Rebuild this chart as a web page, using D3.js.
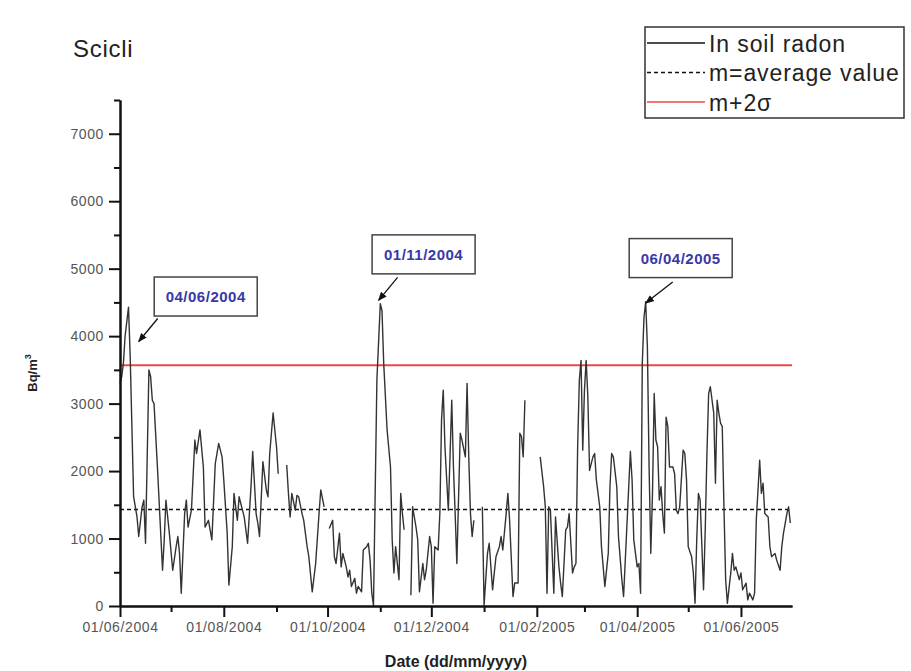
<!DOCTYPE html>
<html>
<head>
<meta charset="utf-8">
<script src="https://cdn.jsdelivr.net/npm/d3@7"></script>
<style>
  body { margin: 0; background: #fff; }
  svg { font-family: "Liberation Sans", Arial, sans-serif; }
</style>
</head>
<body>
<div id="chart"></div>
<script>
// Radon data, days counted from 01/06/2004 (null = gap in the record)
var days = [
  0,1,2,3,5,6,8,10,11,13,14,15,17,18,19,20,22,25,26,27,29,31,33,34,35,36,38,39,40,42,
  44,45,47,49,50,52,54,56,58,60,61,63,64,66,67,69,70,72,73,75,77,78,80,81,82,84,86,87,88,90,
  92,93,95,
  98,99,100,101,103,104,105,107,108,110,111,113,115,117,118,120,122,
  123,125,126,127,129,130,131,133,134,135,136,138,139,140,142,143,145,146,147,148,149,151,153,154,155,157,
  159,160,161,162,164,165,166,167,169,
  171,172,174,175,176,178,179,180,182,183,184,185,187,188,189,190,191,193,195,196,197,198,200,201,203,204,
  205,206,207,208,210,
  213,214,216,217,219,220,221,223,224,225,227,228,229,231,232,234,235,236,237,238,240,
  247,249,250,251,252,253,255,256,258,259,260,262,263,264,266,267,268,269,270,271,272,273,274,275,276,278,
  279,280,282,283,285,287,288,289,290,292,293,295,296,300,301,302,304,305,306,307,308,309,310,311,312,313,
  314,315,316,317,318,319,320,321,322,323,325,326,327,328,329,331,332,333,334,336,337,338,339,340,341,343,
  344,345,346,347,349,350,351,352,353,354,355,356,357,359,360,361,362,364,365,366,368,369,370,372,373,374,
  376,377,378,379,381,382,383,385,386,388,389,390,392,393,394
];
var radon = [
  3300,3400,3600,4000,4430,3690,1620,1320,1030,1470,1570,930,3500,3400,3050,3000,2060,530,980,1570,1080,530,880,1030,780,190,1370,1570,1170,1420,
  2460,2260,2610,2060,1170,1270,980,2110,2410,2210,1870,1080,310,880,1670,1270,1620,1420,1320,930,1770,2290,1370,1230,1030,2140,1720,1620,2260,2860,
  2360,1960,null,
  2090,1670,1320,1670,1420,1640,1620,1370,1270,880,730,210,630,1370,1720,1470,null,
  1150,1270,730,630,1080,580,780,580,430,530,290,410,190,290,210,830,880,930,680,190,10,3350,4480,4380,3600,2610,
  2060,980,490,880,390,1670,1370,1130,null,
  160,1470,1170,980,210,630,390,530,1030,880,40,880,830,1370,2760,3200,2360,1420,3050,2060,1370,630,2560,2460,2210,3300,
  2210,1370,1030,1270,null,
  1470,10,780,930,240,490,730,880,1030,830,1370,1670,1270,140,340,340,2560,2510,2210,3050,null,
  2210,1770,1470,190,1470,1420,190,1320,580,340,140,1130,1170,1370,490,580,630,2360,3350,3640,2310,3200,3640,3100,2010,2210,
  2260,1870,1470,880,290,780,1770,2260,2210,1770,1030,390,140,2290,1870,980,580,630,190,3600,4280,4510,3840,2060,780,1670,
  3150,2460,2360,1570,1770,1370,1080,2800,2660,2060,2060,1960,1420,1370,1470,2310,2260,1870,880,730,490,40,980,1670,1570,240,
  1130,2260,3150,3250,2860,1820,3050,2860,2710,2660,1470,390,40,490,780,530,580,390,490,240,340,90,190,90,190,1270,
  2160,1670,1820,1370,1320,880,730,780,680,530,880,1080,1370,1470,1230
];

var meanValue = 1430;     // m = average value
var limitValue = 3570;    // m + 2 sigma

// Peaks marked with a date box
var annotLabels = ["04/06/2004", "01/11/2004", "06/04/2005"];
var annotDays = [11.5, 152, 309.2];
var annotValues = [3920, 4530, 4490];

var legendLabels = ["In soil radon", "m=average value", "m+2\u03c3"];

var width = 911, height = 671;
var startDate = new Date(2004, 5, 1);
var endDate = new Date(2005, 6, 1);

var svg = d3.select("#chart").append("svg")
    .attr("width", width)
    .attr("height", height);

var x = d3.scaleTime().domain([startDate, endDate]).range([120, 792]);
var y = d3.scaleLinear().domain([0, 7500]).range([606, 100]);

var data = days.map(function(d, i) {
    return {date: d3.timeDay.offset(startDate, d), value: radon[i]};
});

// reference lines
svg.append("line")
    .attr("x1", x(startDate)).attr("x2", x(endDate))
    .attr("y1", y(meanValue)).attr("y2", y(meanValue))
    .attr("stroke", "#111").attr("stroke-width", 1.4)
    .attr("stroke-dasharray", "4,3");
svg.append("line")
    .attr("x1", x(startDate)).attr("x2", x(endDate))
    .attr("y1", y(limitValue)).attr("y2", y(limitValue))
    .attr("stroke", "#e8484a").attr("stroke-width", 2);

// the radon line
var line = d3.line()
    .defined(function(d) { return d.value !== null; })
    .x(function(d) { return x(d.date); })
    .y(function(d) { return y(d.value); });

svg.append("path")
    .datum(data)
    .attr("d", line)
    .attr("fill", "none")
    .attr("stroke", "#333")
    .attr("stroke-width", 1.4)
    .attr("stroke-linejoin", "round");

// x axis: major ticks every 2 months from June, minor ticks between
var majorMonths = d3.timeMonth.range(startDate, endDate, 2);
var minorMonths = d3.timeMonth.range(d3.timeMonth.offset(startDate, 1), endDate, 2);

svg.append("g")
    .attr("transform", "translate(0,606)")
    .call(d3.axisBottom(x).tickValues(majorMonths).tickFormat(d3.timeFormat("%d/%m/%Y"))
        .tickSize(11).tickSizeOuter(0).tickPadding(5));
svg.append("g")
    .attr("transform", "translate(0,606)")
    .call(d3.axisBottom(x).tickValues(minorMonths).tickFormat("").tickSize(6).tickSizeOuter(0));

// y axis
svg.append("g")
    .attr("transform", "translate(120,0)")
    .call(d3.axisLeft(y).tickValues(d3.range(0, 7001, 1000)).tickFormat(d3.format("d"))
        .tickSize(11).tickSizeOuter(0).tickPadding(5));
svg.append("g")
    .attr("transform", "translate(120,0)")
    .call(d3.axisLeft(y).tickValues(d3.range(500, 7501, 1000)).tickFormat("").tickSize(6).tickSizeOuter(0));

svg.selectAll(".domain, .tick line")
    .attr("stroke", "#111").attr("stroke-width", 2);
svg.selectAll(".tick text")
    .attr("fill", "#555").style("font-size", "14px").style("letter-spacing", "0.6px");

// axis titles
svg.append("text")
    .attr("transform", "translate(37,373) rotate(-90)")
    .attr("text-anchor", "middle")
    .style("font-size", "13px").style("font-weight", "bold").attr("fill", "#222")
    .html("Bq/m<tspan dy='-6' font-size='9px'>3</tspan>");

svg.append("text")
    .attr("x", 456).attr("y", 667)
    .attr("text-anchor", "middle")
    .style("font-size", "16px").style("font-weight", "bold").attr("fill", "#222")
    .text("Date (dd/mm/yyyy)");

// title
svg.append("text")
    .attr("x", 73).attr("y", 57)
    .style("font-size", "24px").style("letter-spacing", "0.7px").attr("fill", "#222")
    .text("Scicli");

// legend
var legend = svg.append("g");
legend.append("rect")
    .attr("x", 645).attr("y", 27).attr("width", 259).attr("height", 91)
    .attr("fill", "#fff").attr("stroke", "#333").attr("stroke-width", 1.5);
var legendStyles = [
    {stroke: "#111", dash: null},
    {stroke: "#111", dash: "4,3"},
    {stroke: "#e8484a", dash: null}
];
legendLabels.forEach(function(label, i) {
    var ly = 43 + i * 29.5;
    legend.append("line")
        .attr("x1", 647).attr("x2", 705).attr("y1", ly).attr("y2", ly)
        .attr("stroke", legendStyles[i].stroke).attr("stroke-width", 1.5)
        .attr("stroke-dasharray", legendStyles[i].dash);
    legend.append("text")
        .attr("x", 709).attr("y", ly + 8.5)
        .style("font-size", "23px").style("letter-spacing", "0.9px").attr("fill", "#222")
        .text(label);
});

// date boxes with arrows
var defs = svg.append("defs");
defs.append("marker")
    .attr("id", "arrow")
    .attr("viewBox", "0 0 10 10")
    .attr("refX", 9).attr("refY", 5)
    .attr("markerWidth", 7).attr("markerHeight", 7)
    .attr("orient", "auto")
    .append("path")
    .attr("d", "M0,1 L10,5 L0,9 Z")
    .attr("fill", "#111");

var boxOffsets = [[67, -45], [45, -46], [35, -45]];
var arrowStarts = [[19, -23], [19, -23], [27, -21]];

annotLabels.forEach(function(label, i) {
    var tx = x(d3.timeDay.offset(startDate, annotDays[i])), ty = y(annotValues[i]);
    var cx = tx + boxOffsets[i][0], cy = ty + boxOffsets[i][1];
    svg.append("line")
        .attr("x1", tx + arrowStarts[i][0]).attr("y1", ty + arrowStarts[i][1])
        .attr("x2", tx).attr("y2", ty)
        .attr("stroke", "#111").attr("stroke-width", 1.3)
        .attr("marker-end", "url(#arrow)");
    svg.append("rect")
        .attr("x", cx - 51.5).attr("y", cy - 19.5).attr("width", 103).attr("height", 39)
        .attr("fill", "#fff").attr("stroke", "#444").attr("stroke-width", 1.5);
    svg.append("text")
        .attr("x", cx).attr("y", cy + 5.5)
        .attr("text-anchor", "middle")
        .style("font-size", "15px").style("font-weight", "bold").style("letter-spacing", "0.5px")
        .attr("fill", "#3838a8")
        .text(label);
});
</script>
</body>
</html>
